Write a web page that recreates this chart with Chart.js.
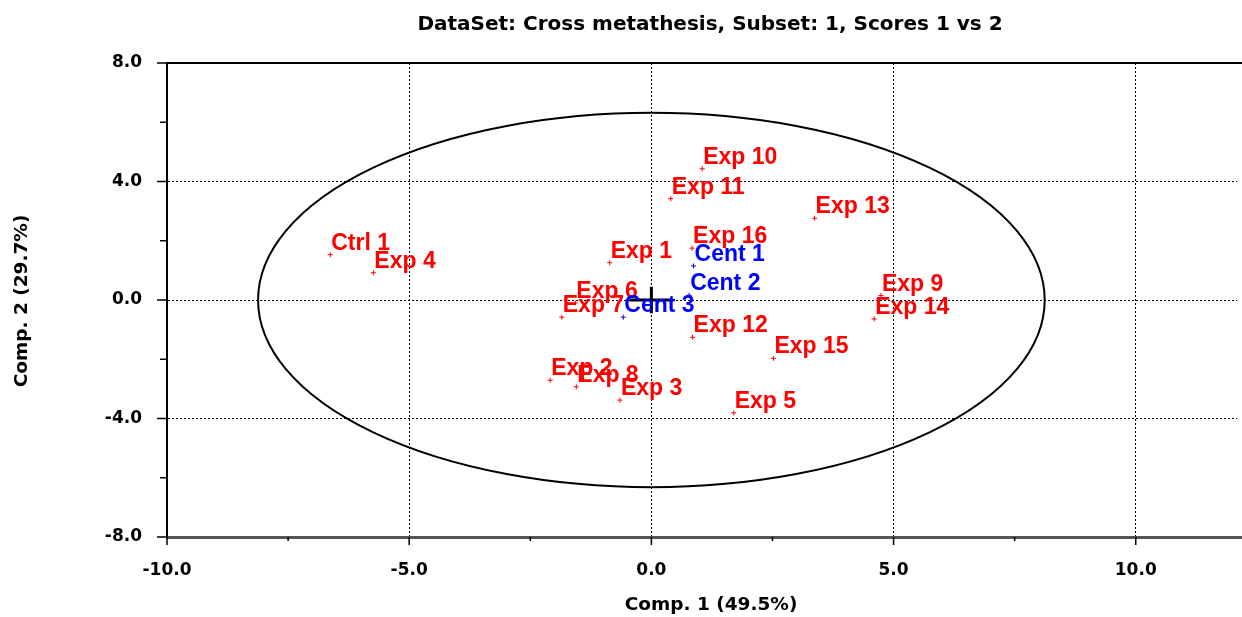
<!DOCTYPE html>
<html>
<head>
<meta charset="utf-8">
<script src="https://cdn.jsdelivr.net/npm/chart.js@4"></script>
<style>
  html, body { margin: 0; padding: 0; background: #fff; }
  #wrap { width: 1242px; height: 617px; position: relative; }
</style>
</head>
<body>
<div id="wrap"><canvas id="scores-chart"></canvas></div>
<script>
// Scores, component 1 vs component 2
const expLabels = ['Ctrl 1', 'Exp 1', 'Exp 2', 'Exp 3', 'Exp 4', 'Exp 5', 'Exp 6', 'Exp 7', 'Exp 8',
    'Exp 9', 'Exp 10', 'Exp 11', 'Exp 12', 'Exp 13', 'Exp 14', 'Exp 15', 'Exp 16'];
const expComp1 = [-6.63, -0.86, -2.09, -0.65, -5.74, 1.70, -1.57, -1.85, -1.55,
    4.74, 1.05, 0.40, 0.85, 3.37, 4.60, 2.52, 0.84];
const expComp2 = [1.53, 1.26, -2.71, -3.38, 0.92, -3.81, -0.10, -0.58, -2.93,
    0.15, 4.43, 3.42, -1.26, 2.76, -0.64, -1.97, 1.75];

const centLabels = ['Cent 1', 'Cent 2', 'Cent 3'];
const centComp1 = [0.87, 0.78, -0.58];
const centComp2 = [1.15, 0.16, -0.58];

// Hotelling T2 ellipse semi-axes
const ellipseAxes = [8.12, 6.32];

const xTicks = [-10, -5, 0, 5, 10];
const yTicks = [-8, -4, 0, 4, 8];

const titleText = 'DataSet: Cross metathesis, Subset: 1, Scores 1 vs 2';
const xTitle = 'Comp. 1 (49.5%)';
const yTitle = 'Comp. 2 (29.7%)';

const labelFont = 'bold 23px "Liberation Sans", Arial';

function toPoints(xs, ys) {
    return xs.map((x, i) => ({ x: x, y: ys[i] }));
}

const extras = {
    id: 'extras',
    beforeDatasetsDraw(chart) {
        const ctx = chart.ctx;
        const x = chart.scales.x;
        const y = chart.scales.y;
        const cx = x.getPixelForValue(0);
        const cy = y.getPixelForValue(0);
        ctx.save();
        // ellipse
        ctx.strokeStyle = '#000';
        ctx.lineWidth = 2;
        ctx.beginPath();
        ctx.ellipse(cx, cy,
            x.getPixelForValue(ellipseAxes[0]) - cx,
            cy - y.getPixelForValue(ellipseAxes[1]), 0, 0, Math.PI * 2);
        ctx.stroke();
        // origin cross
        ctx.lineWidth = 3;
        ctx.beginPath();
        ctx.moveTo(x.getPixelForValue(-0.45), cy);
        ctx.lineTo(x.getPixelForValue(0.45), cy);
        ctx.moveTo(cx, y.getPixelForValue(0.45));
        ctx.lineTo(cx, y.getPixelForValue(-0.45));
        ctx.stroke();
        ctx.restore();
    },
    afterDatasetsDraw(chart) {
        const ctx = chart.ctx;
        ctx.save();
        ctx.font = labelFont;
        ctx.textAlign = 'left';
        ctx.textBaseline = 'alphabetic';
        chart.data.datasets.forEach((ds, i) => {
            const meta = chart.getDatasetMeta(i);
            ctx.fillStyle = ds.borderColor;
            meta.data.forEach((pt, j) => {
                ctx.fillText(ds.names[j], pt.x + 1, pt.y - 5);
            });
        });
        ctx.restore();
    },
    afterDraw(chart) {
        const ctx = chart.ctx;
        const area = chart.chartArea;
        const x = chart.scales.x;
        const y = chart.scales.y;
        ctx.save();
        // top frame line
        ctx.strokeStyle = '#000';
        ctx.lineWidth = 2;
        ctx.beginPath();
        ctx.moveTo(area.left, area.top);
        ctx.lineTo(chart.width, area.top);
        ctx.stroke();
        // carry the bottom axis line to the canvas edge
        ctx.strokeStyle = '#555';
        ctx.lineWidth = 3;
        ctx.beginPath();
        ctx.moveTo(area.right - 2, area.bottom + 0.5);
        ctx.lineTo(chart.width, area.bottom + 0.5);
        ctx.stroke();
        // tick marks
        ctx.strokeStyle = '#000';
        ctx.lineWidth = 1.5;
        ctx.beginPath();
        x.ticks.forEach(t => {
            const px = x.getPixelForValue(t.value);
            const len = xTicks.includes(t.value) ? 8 : 4;
            ctx.moveTo(px, area.bottom);
            ctx.lineTo(px, area.bottom + len);
        });
        y.ticks.forEach(t => {
            const py = y.getPixelForValue(t.value);
            const len = yTicks.includes(t.value) ? 10 : 7;
            ctx.moveTo(area.left, py);
            ctx.lineTo(area.left - len, py);
        });
        ctx.stroke();
        // titles
        ctx.fillStyle = '#000';
        ctx.textAlign = 'center';
        ctx.textBaseline = 'middle';
        ctx.font = 'bold 20px "DejaVu Sans"';
        ctx.fillText(titleText, 710, 25);
        ctx.font = 'bold 18.5px "DejaVu Sans"';
        ctx.fillText(xTitle, 711, 605);
        ctx.translate(22, 301);
        ctx.rotate(-Math.PI / 2);
        ctx.fillText(yTitle, 0, 0);
        ctx.restore();
    }
};

new Chart(document.getElementById('scores-chart'), {
    type: 'scatter',
    data: {
        datasets: [
            {
                label: 'Experiments',
                names: expLabels,
                data: toPoints(expComp1, expComp2),
                borderColor: '#ff0000',
                backgroundColor: '#ff0000',
                pointStyle: 'cross',
                pointRadius: 2.5,
                borderWidth: 1,
            },
            {
                label: 'Centre points',
                names: centLabels,
                data: toPoints(centComp1, centComp2),
                borderColor: '#0000ff',
                backgroundColor: '#0000ff',
                pointStyle: 'cross',
                pointRadius: 2.5,
                borderWidth: 1,
            }
        ]
    },
    options: {
        responsive: true,
        maintainAspectRatio: false,
        animation: false,
        layout: { padding: { top: 63, right: 0, left: 0, bottom: 0 } },
        plugins: {
            legend: { display: false },
            tooltip: { enabled: false },
        },
        scales: {
            x: {
                type: 'linear',
                min: -10,
                max: 12.09,
                afterFit: scale => { scale.height = 80; },
                ticks: {
                    stepSize: 2.5,
                    includeBounds: false,
                    autoSkip: false,
                    maxRotation: 0,
                    padding: 13,
                    color: '#000',
                    font: { family: 'DejaVu Sans', size: 17, weight: 'bold' },
                    callback: v => xTicks.includes(v) ? v.toFixed(1) : '',
                },
                grid: {
                    color: c => (c.tick && xTicks.includes(c.tick.value) && c.tick.value !== -10) ? '#000' : 'rgba(0,0,0,0)',
                    lineWidth: 1,
                    tickLength: 10,
                    tickColor: 'rgba(0,0,0,0)',
                },
                border: { color: '#555', width: 3, dash: [2, 2] },
            },
            y: {
                type: 'linear',
                min: -8,
                max: 8,
                afterFit: scale => { scale.width = 167; },
                ticks: {
                    stepSize: 2,
                    autoSkip: false,
                    padding: 15,
                    color: '#000',
                    font: { family: 'DejaVu Sans', size: 17, weight: 'bold' },
                    callback: v => yTicks.includes(v) ? v.toFixed(1) : '',
                },
                grid: {
                    color: c => (c.tick && [-4, 0, 4].includes(c.tick.value)) ? '#000' : 'rgba(0,0,0,0)',
                    lineWidth: 1,
                    tickLength: 10,
                    tickColor: 'rgba(0,0,0,0)',
                },
                border: { color: '#000', width: 2, dash: [2, 2] },
            }
        }
    },
    plugins: [extras]
});
</script>
</body>
</html>
